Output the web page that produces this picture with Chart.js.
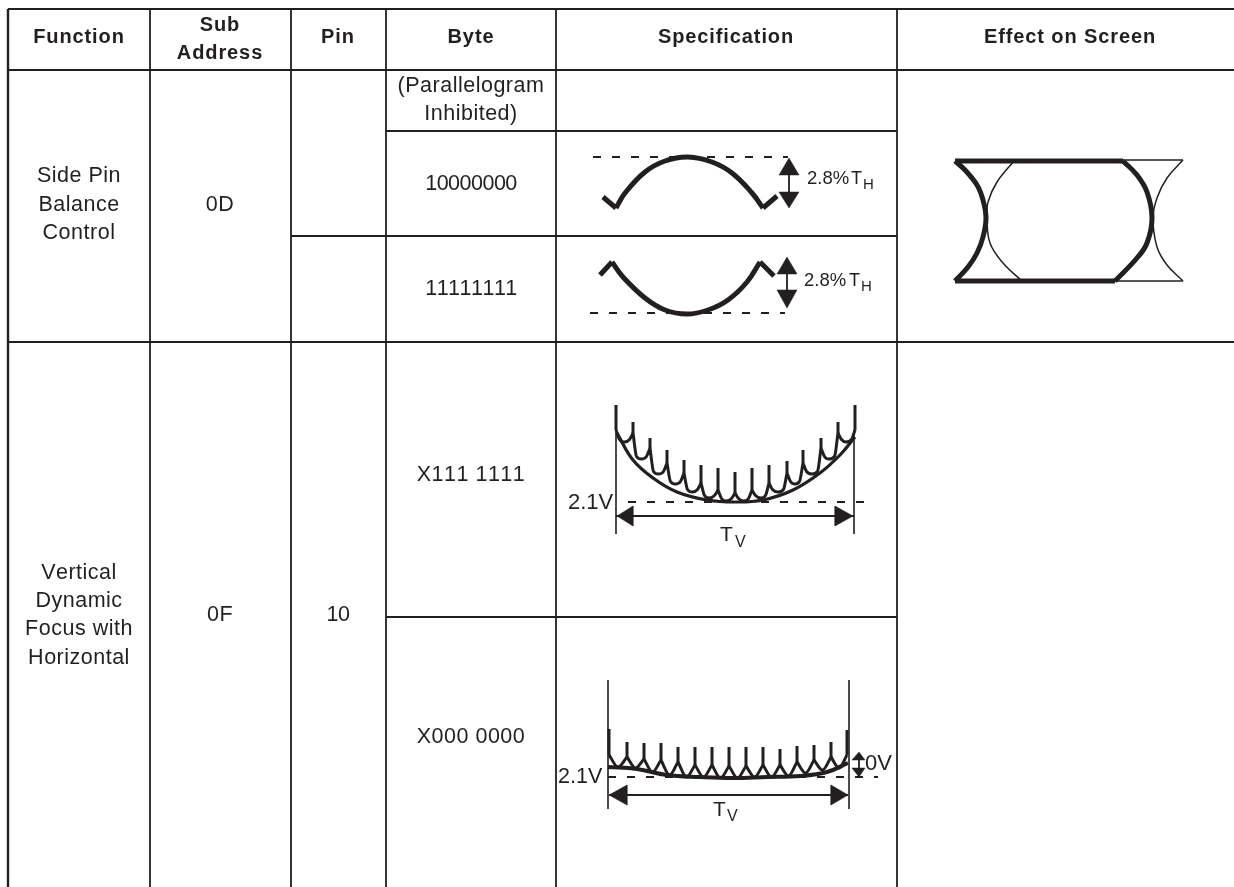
<!DOCTYPE html>
<html>
<head>
<meta charset="utf-8">
<style>html,body{margin:0;padding:0;background:#fff;overflow:hidden}canvas{display:block}</style>
<script src="https://cdn.jsdelivr.net/npm/chart.js@4"></script>
</head>
<body>
<canvas id="c" width="1234" height="887"></canvas>
<script>
// ---- table rules: [x, yStart, yEnd] and [y, xStart, xEnd] ----
const columnRules = [[8,9,887],[150,9,887],[291,9,887],[386,9,887],[556,9,887],[897,9,887]];
const rowRules = [[9,8,1234],[70,8,1234],[131,386,897],[236,291,897],[342,8,1234],[617,386,897]];

// ---- text ----
const headerLabels = [["Function",79,37],["Sub",220,25],["Address",220,53],["Pin",338,37],["Byte",471,37],["Specification",726,37],["Effect on Screen",1070,37]];
const cellLabels = [["Side Pin",79,176],["Balance",79,205],["Control",79,233],["0D",220,205],["(Parallelogram",471,86],["Inhibited)",471,114],["10000000",471,184],["11111111",471,289],
 ["Vertical",79,573],["Dynamic",79,601],["Focus with",79,629],["Horizontal",79,658],["0F",220,615],["10",338,615],["X111 1111",471,475],["X000 0000",471,737]];
const noteLabels = [["2.8%",807,179,18.5],["T",851,179,18],["2.8%",804,281,18.5],["T",849,281,18],["2.1V",568,503,22],["2.1V",558,777,21.5],["T",720,535,21],["T",713,810,21],["0V",865,764,22]];
const subLabels = [["H",863,185,15],["H",861,287,15],["V",735,543,16],["V",727,817,16]];

// ---- side pin curves ----
const bowDownX = [616,625,645,665,688,712,732,752,763];
const bowDownY = [208,193,172,161,157,162,173,193,208];
const bowDownHook = [[603,197],[616,208]];
const bowDownTail = [[763,208],[777,196]];
const bowUpX = [612,623,645,665,687,708,728,747,760];
const bowUpY = [262,277,298,310,314,310,300,282,262];
const bowUpHead = [[600,275],[612,262]];
const bowUpTail = [[760,262],[774,276]];
const dashA = [[593,157],[788,157]];
const dashB = [[590,313],[785,313]];

// ---- raster shapes on screen ----
const screenTop = [[955,161],[1123,161]];
const screenBottom = [[955,281],[1115,281]];
const thickLeftY = [[955,161],[965,170],[977,185],[983,200],[986,218],[983,237],[977,253],[968,267],[955,281]];
const thickRightY = [[1123,161],[1137,175],[1147,192],[1152,218],[1147,243],[1137,258],[1115,281]];
const thinLeftY = [[1014,161],[997,182],[988,202],[987,218],[990,243],[1003,263],[1022,281]];
const thinRightY = [[1183,160],[1167,178],[1157,198],[1153,218],[1157,247],[1167,265],[1183,281]];
const thinTop = [[1123,160],[1183,160]];
const thinBottom = [[1115,281],[1183,281]];

// ---- focus waveform X111 1111 ----
const spikeX1 = [616,633,650,667,684,701,718,735,752,769,787,803,821,838,855];
const spikeTop1 = [405,422,438,450,460,465,468,472,468,465,461,450,438,422,405];
const joint1 = [430,433,448,463,473,483,490,493,490,483,473,463,448,433,430];
const valleyX1 = [624.5,641.5,658.5,675.5,692.5,709.5,726.5,743.5,760.5,778,795,812,829,846];
const valley1 = [442,459,474,484,492,498,501,501,498,492,484,474,459,442];
const envelope1 = [[617,433],[633,460],[653,478],[677,492],[707,500],[735,502],[763,500],[793,490],[820,473],[840,455],[855,437]];
const dash1 = [[628,502],[872,502]];
const span1 = [[616,516],[854,516]];

// ---- focus waveform X000 0000 ----
const spikeX2 = [609,627,644,661,678,695,712,729,746,763,780,797,814,831,847];
const spikeTop2 = [729,742,743,743,747,747,747,747,747,747,749,746,745,742,730];
const joint2 = [755,757,759,760,762,765,765,766,766,765,765,762,760,757,755];
const valleyX2 = [618,635.5,652.5,669.5,686.5,703.5,720.5,737.5,754.5,771.5,788.5,805.5,822.5,839];
const valley2 = [767,768,772,775,777,777,778,778,777,777,776,773,770,768];
const envelope2 = [[608,767],[637,769],[667,775],[700,777],[733,778],[767,777],[800,776],[827,772],[848,763]];
const dash2 = [[608,777],[878,777]];
const span2 = [[609,795],[848,795]];

// ---- thin markers and arrow heads ----
const markers = [[[616,430],[616,534]],[[854,430],[854,534]],[[608,680],[608,809]],[[849,680],[849,809]]];
const arrowStems = [[[789,170],[789,196]],[[787,270],[787,294]],[[859,758],[859,772]]];
const arrowHeads = [
 [[789,158],[779,175],[799,175]],[[789,208],[779,192],[799,192]],
 [[787,257],[777,274],[797,274]],[[787,308],[777,290],[797,290]],
 [[617,516],[633,506],[633,526]],[[853,516],[835,506],[835,526]],
 [[609,795],[627,785],[627,805]],[[848,795],[831,785],[831,805]],
 [[859,752],[852,760],[865,760]],[[859,777],[852,768],[865,768]]
];

const ink = "#231f20";
const pts = a => a.map(p => ({x:p[0], y:p[1]}));
const line = (data, w, extra) => Object.assign({data, showLine:true, borderColor:ink, borderWidth:w, pointRadius:0, fill:false, borderCapStyle:"butt"}, extra||{});
const zip = (xs, ys) => xs.map((x,i) => ({x, y:ys[i]}));

function spikes(xs, tops, joints){
  const out = [];
  xs.forEach((x,i) => { out.push({x,y:tops[i]},{x,y:joints[i]},{x,y:null}); });
  return out;
}
function scallops(xs, joints, vx, vy, armed){
  const out = [];
  vx.forEach((m,i) => {
    out.push({x:xs[i],y:joints[i]});
    if (armed) out.push({x:xs[i]+3.5,y:vy[i]-2.5});
    out.push({x:m,y:vy[i]});
    if (armed) out.push({x:xs[i+1]-3.5,y:vy[i]-2.5});
    out.push({x:xs[i+1],y:joints[i+1]},{x:xs[i+1]+0.1,y:null});
  });
  return out;
}
const smooth = {cubicInterpolationMode:"monotone"};
const curve = {tension:0.4};

const datasets = [];
columnRules.forEach(r => datasets.push(line([{x:r[0],y:r[1]},{x:r[0],y:r[2]}], r[0]===8?2.4:1.8)));
rowRules.forEach(r => datasets.push(line([{x:r[1],y:r[0]},{x:r[2],y:r[0]}], 2)));

[dashA,dashB,dash1,dash2].forEach(d => datasets.push(line(pts(d),2,{borderDash:[8,11]})));

datasets.push(line(zip(bowDownX,bowDownY),5,curve));
datasets.push(line(pts(bowDownHook),5));
datasets.push(line(pts(bowDownTail),5));
datasets.push(line(zip(bowUpX,bowUpY),5,curve));
datasets.push(line(pts(bowUpHead),5));
datasets.push(line(pts(bowUpTail),5));

[screenTop,screenBottom].forEach(s => datasets.push(line(pts(s),5)));
[thickLeftY,thickRightY].forEach(s => datasets.push(line(pts(s),5,curve)));
[thinLeftY,thinRightY].forEach(s => datasets.push(line(pts(s),1.5,curve)));
[thinTop,thinBottom].forEach(s => datasets.push(line(pts(s),1.5)));

datasets.push(line(spikes(spikeX1,spikeTop1,joint1),3));
datasets.push(line(scallops(spikeX1,joint1,valleyX1,valley1,true),3,smooth));
datasets.push(line(pts(envelope1),3.2,curve));
datasets.push(line(spikes(spikeX2,spikeTop2,joint2),3));
datasets.push(line(scallops(spikeX2,joint2,valleyX2,valley2,false),3,smooth));
datasets.push(line(pts(envelope2),4,curve));

markers.forEach(m => datasets.push(line(pts(m),1.6)));
[span1,span2].forEach(s => datasets.push(line(pts(s),2)));
arrowStems.forEach(s => datasets.push(line(pts(s),1.8)));
arrowHeads.forEach(h => datasets.push(line(pts(h.concat([h[0]])),0.5,{fill:"shape",backgroundColor:ink})));

const textPlugin = {
  id:"labels",
  afterDatasetsDraw(chart){
    const {ctx, scales:{x,y}} = chart;
    const put = (t,px,py,font,align,spacing) => {
      ctx.font = font; ctx.textAlign = align; ctx.textBaseline = "middle";
      ctx.fontKerning = "none";
      ctx.letterSpacing = spacing||"0px"; ctx.fillStyle = "#231f20";
      ctx.fillText(t, x.getPixelForValue(px), y.getPixelForValue(py));
    };
    ctx.save();
    const fam = '"Liberation Sans", Arial, sans-serif';
    headerLabels.forEach(l => put(l[0],l[1],l[2],`bold 20px ${fam}`,"center","0.9px"));
    cellLabels.forEach(l => put(l[0],l[1],l[2],`21.5px ${fam}`,"center",/^[01]+$/.test(l[0])?"-0.5px":"0.5px"));
    noteLabels.forEach(l => put(l[0],l[1],l[2],`${l[3]}px ${fam}`,"left"));
    subLabels.forEach(l => put(l[0],l[1],l[2],`${l[3]}px ${fam}`,"left"));
    ctx.restore();
  }
};

new Chart(document.getElementById("c"), {
  type:"scatter",
  data:{datasets},
  options:{
    responsive:false, animation:false, events:[],
    layout:{padding:0},
    plugins:{legend:{display:false},tooltip:{enabled:false},title:{display:false}},
    scales:{
      x:{type:"linear",min:0,max:1234,display:false},
      y:{type:"linear",min:0,max:887,reverse:true,display:false}
    }
  },
  plugins:[textPlugin]
});
</script>
</body>
</html>
